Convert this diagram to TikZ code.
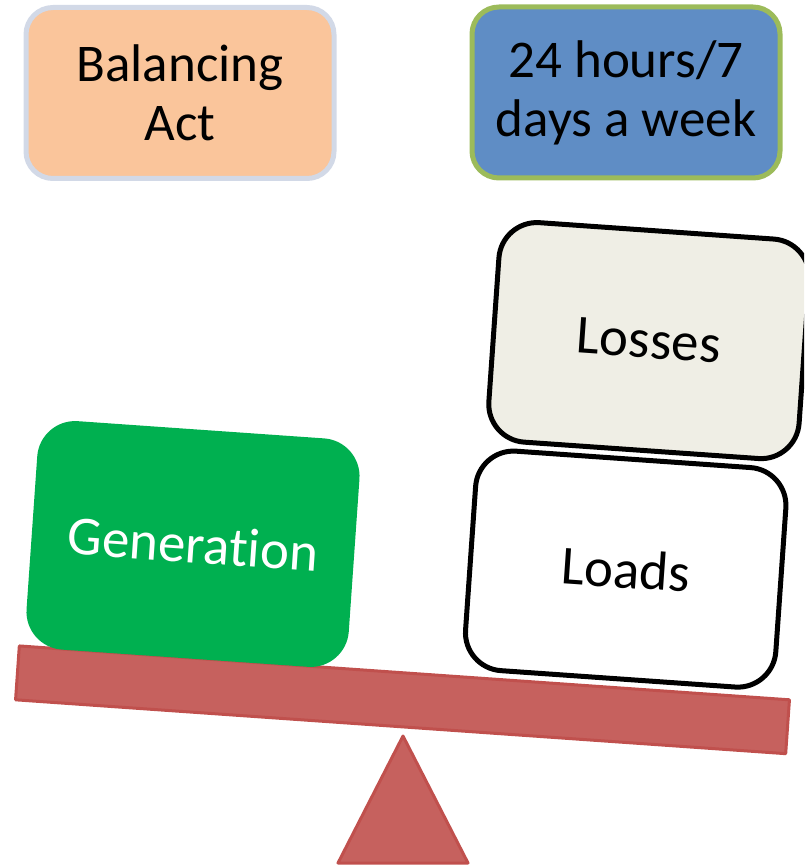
\documentclass[tikz,border=0pt]{standalone}
\usepackage{fontspec}
\setmainfont{Carlito}[Ligatures=NoCommon]

\definecolor{peach}{HTML}{FAC59B}
\definecolor{peachline}{HTML}{D2D9E7}
\definecolor{skyblue}{HTML}{5F8DC5}
\definecolor{oliveline}{HTML}{9CBB5A}
\definecolor{gengreen}{HTML}{00B050}
\definecolor{lossfill}{HTML}{EFEEE5}
\definecolor{beamfill}{HTML}{C6615E}
\definecolor{beamline}{HTML}{C0504D}

\begin{document}
\begin{tikzpicture}[x=1pt,y=-1pt,
  txt/.style={font=\fontsize{53}{59}\selectfont, align=center,
    inner sep=0pt, outer sep=0pt},
  topbox/.style={txt, rectangle, rounded corners=27pt, line width=5pt,
    minimum width=308pt, minimum height=171pt},
  weight/.style={txt, font=\fontsize{55}{62}\selectfont, rectangle,
    rounded corners=38pt, rotate=-4,
    minimum width=311pt, minimum height=220pt},
  framed/.style={weight, draw=black, line width=5pt},
  beamstyle/.style={fill=beamfill, draw=beamline, line width=3pt,
    line join=round}
]
\useasboundingbox (0,0) rectangle (804,866);
\clip (0,0) rectangle (804,866);

% title boxes
\node[topbox, fill=peach, draw=peachline] (act) at (180,93) {Balancing\\Act};
\node[topbox, fill=skyblue, draw=oliveline] (time) at (626,92.5) {24 hours/7\\days a week};

% seesaw: beam and pivot
\node[beamstyle, rectangle, rotate=-4, minimum width=772pt,
  minimum height=54pt, inner sep=0pt] (beam) at (402.5,699.8) {};
\coordinate (apex) at (403,736);
\coordinate (baseR) at (468,863);
\coordinate (baseL) at (338,863);
\draw[beamstyle] (apex) -- (baseR) -- (baseL) -- cycle;

% weights on the beam
\node[weight, fill=gengreen, text=white, minimum width=323pt,
  minimum height=229pt] (gen) at (193,544) {Generation};
\node[framed, fill=lossfill] (losses) at (649,340.6) {Losses};
\node[framed, fill=white] (loads) at (625.7,569.1) {Loads};
\end{tikzpicture}
\end{document}
